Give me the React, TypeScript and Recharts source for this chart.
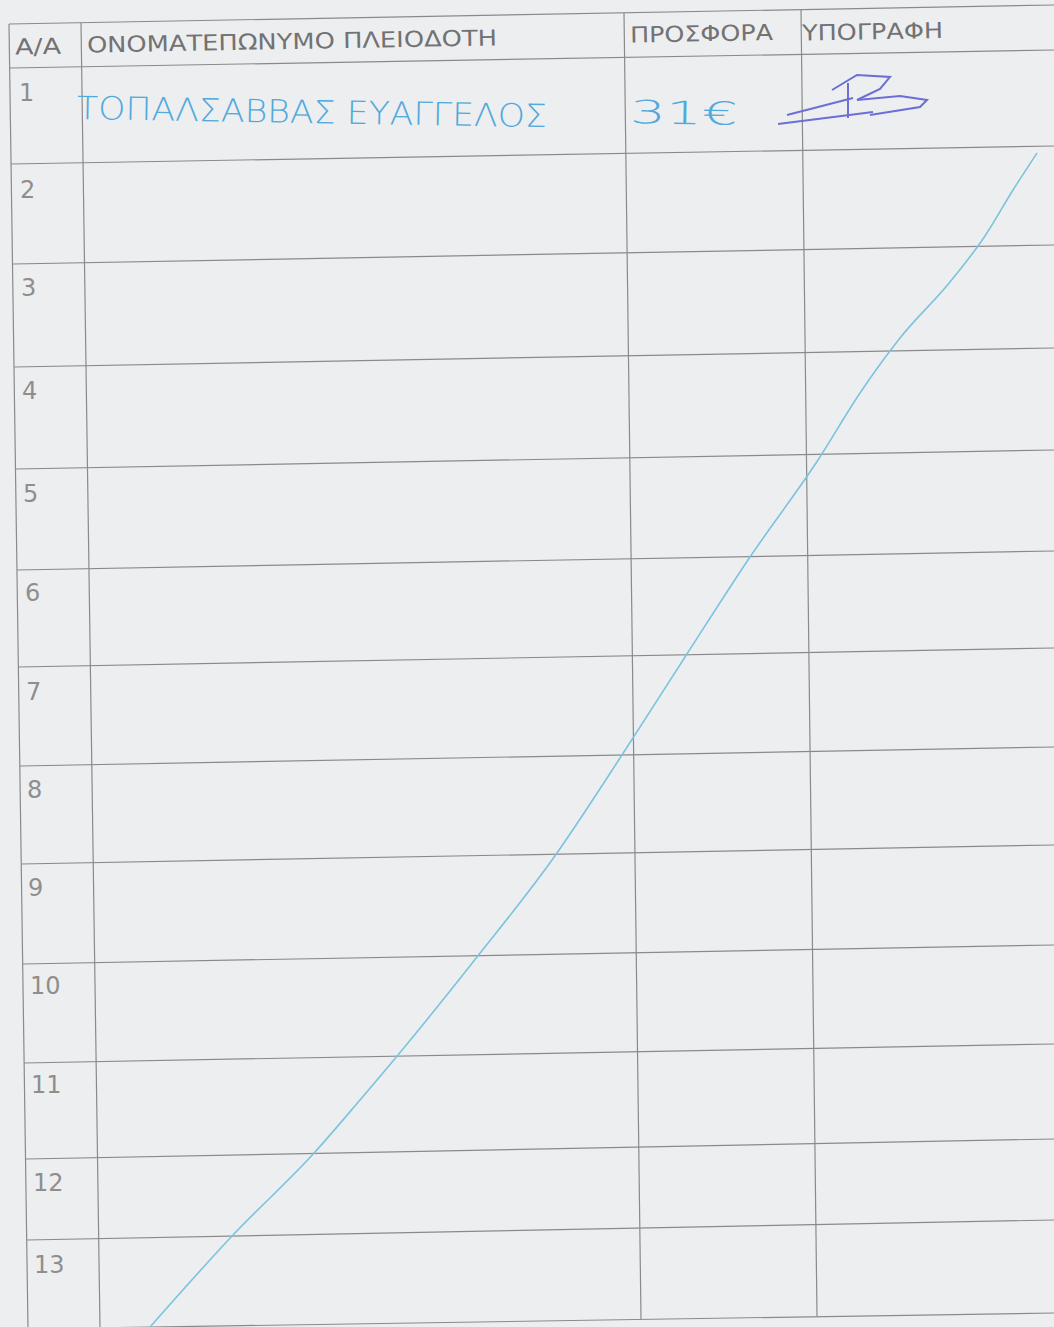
import React from "react";
import {
  ComposedChart,
  XAxis,
  YAxis,
  Line,
  Scatter,
  ReferenceLine,
} from "recharts";

const W = 1054;
const H = 1327;

// horizontal rules of the form (scan is tilted a little): x/y at the left border, y at the right edge
const ruleLeftX = [9, 10, 11, 13, 14, 16, 17, 18, 20, 21, 23, 24, 26, 27, 28];
const ruleLeftY = [24, 68, 164, 264, 367, 469, 570, 667, 766, 864, 964, 1063, 1159, 1240, 1329];
const ruleRightY = [5, 50, 146, 245, 348, 450, 551, 648, 747, 845, 945, 1044, 1139, 1220, 1313];

// vertical rules: border, A/A | name, name | offer, offer | signature
const colTopX = [9, 81, 624, 801];
const colTopY = [24, 23, 13, 10];
const colBottomX = [28, 100, 641, 817];
const colBottomY = [1329, 1328, 1319, 1316];

const headers = ["A/A", "ΟΝΟΜΑΤΕΠΩΝΥΜΟ ΠΛΕΙΟΔΟΤΗ", "ΠΡΟΣΦΟΡΑ", "ΥΠΟΓΡΑΦΗ"];
const headerX = [15, 87, 630, 802];
const headerY = [47, 45, 35, 33];
const headerW = [46, 410, 143, 141];

const rowNumbers = ["1", "2", "3", "4", "5", "6", "7", "8", "9", "10", "11", "12", "13"];
const rowNumX = [19, 20, 21, 22, 23, 25, 26, 27, 28, 30, 31, 33, 34];
const rowNumY = [93, 190, 288, 391, 494, 593, 692, 790, 888, 986, 1085, 1183, 1265];

// handwritten entries in row 1
const bidderName = "ΤΟΠΑΛΣΑΒΒΑΣ ΕΥΑΓΓΕΛΟΣ";
const bidAmount = "31€";
const handX = [77, 630];
const handY = [108, 112];
const handW = [470, 108];

// signature strokes
const sigLow = [{ x: 778, y: 124 }, { x: 873, y: 112 }];
const sigHigh = [{ x: 787, y: 115 }, { x: 853, y: 98 }];
const sigStem = [{ x: 848, y: 83 }, { x: 848, y: 118 }];
const sigLoopTop = [
  { x: 832, y: 90 },
  { x: 857, y: 75 },
  { x: 890, y: 77 },
  { x: 880, y: 89 },
  { x: 857, y: 100 },
];
const sigLoopBottom = [
  { x: 857, y: 100 },
  { x: 900, y: 96 },
  { x: 927, y: 100 },
  { x: 920, y: 107 },
  { x: 870, y: 115 },
];

// the long strike-through line across empty rows
const strikeX = [150, 233, 315, 360, 398, 477, 552, 622, 685, 750, 818, 860, 900, 950, 985, 1013, 1037];
const strikeY = [1327, 1235, 1152, 1100, 1055, 957, 860, 755, 657, 557, 460, 393, 338, 282, 236, 190, 153];

const INK = "#8a8a8a";
const PRINT = "#727272";
const PEN = "#52a9dc";
const SIG = "#6b6fd6";

const strike = strikeX.map((x, i) => ({ x, y: strikeY[i] }));
const headerData = headers.map((t, i) => ({ x: headerX[i], y: headerY[i], t, w: headerW[i] }));
const rowData = rowNumbers.map((t, i) => ({ x: rowNumX[i], y: rowNumY[i], t }));
const handData = [bidderName, bidAmount].map((t, i) => ({ x: handX[i], y: handY[i], t, w: handW[i] }));

const HeaderText = (p: any) => (
  <text
    x={p.cx}
    y={p.cy}
    dominantBaseline="central"
    fontFamily="'DejaVu Sans', Verdana, sans-serif"
    fontSize={22}
    fill={PRINT}
    textLength={p.payload.w}
    lengthAdjust="spacingAndGlyphs"
    transform={`rotate(-1 ${p.cx} ${p.cy})`}
  >
    {p.payload.t}
  </text>
);

const RowText = (p: any) => (
  <text
    x={p.cx}
    y={p.cy}
    dominantBaseline="central"
    fontFamily="'DejaVu Sans', Verdana, sans-serif"
    fontSize={24}
    fill="#8e8e8e"
  >
    {p.payload.t}
  </text>
);

const HandText = (p: any) => (
  <text
    x={p.cx}
    y={p.cy}
    dominantBaseline="central"
    fontFamily="'DejaVu Sans', sans-serif"
    fontWeight={200}
    fontSize={32}
    fill={PEN}
    textLength={p.payload.w}
    lengthAdjust="spacingAndGlyphs"
    transform={`rotate(1 ${p.cx} ${p.cy})`}
  >
    {p.payload.t}
  </text>
);

const pen = { dot: false, activeDot: false, isAnimationActive: false } as const;

export default function App() {
  return (
    <div
      style={{
        position: "absolute",
        left: 0,
        top: 0,
        width: W,
        height: H,
        background: "#edeef0",
        overflow: "hidden",
      }}
    >
      <ComposedChart width={W} height={H} data={strike} margin={{ top: 0, right: 0, bottom: 0, left: 0 }}>
        <XAxis type="number" dataKey="x" domain={[0, W]} allowDataOverflow hide />
        <YAxis type="number" dataKey="y" domain={[0, H]} allowDataOverflow reversed hide />

        {ruleLeftY.map((y, i) => (
          <ReferenceLine
            key={"r" + i}
            segment={[
              { x: ruleLeftX[i], y },
              { x: W, y: ruleRightY[i] },
            ]}
            stroke={INK}
            strokeWidth={1.2}
            ifOverflow="visible"
          />
        ))}
        {colTopX.map((x, i) => (
          <ReferenceLine
            key={"c" + i}
            segment={[
              { x, y: colTopY[i] },
              { x: colBottomX[i], y: colBottomY[i] },
            ]}
            stroke={INK}
            strokeWidth={1.2}
            ifOverflow="visible"
          />
        ))}

        <Scatter data={headerData} shape={HeaderText} isAnimationActive={false} />
        <Scatter data={rowData} shape={RowText} isAnimationActive={false} />
        <Scatter data={handData} shape={HandText} isAnimationActive={false} />

        <Line data={sigLow} dataKey="y" type="linear" stroke={SIG} strokeWidth={2} {...pen} />
        <Line data={sigHigh} dataKey="y" type="linear" stroke={SIG} strokeWidth={2} {...pen} />
        <Line data={sigStem} dataKey="y" type="linear" stroke={SIG} strokeWidth={2} {...pen} />
        <Line data={sigLoopTop} dataKey="y" type="linear" stroke={SIG} strokeWidth={2} {...pen} />
        <Line data={sigLoopBottom} dataKey="y" type="linear" stroke={SIG} strokeWidth={2} {...pen} />

        <Line data={strike} dataKey="y" type="monotone" stroke="#7cc3de" strokeWidth={1.6} {...pen} />
      </ComposedChart>
    </div>
  );
}
